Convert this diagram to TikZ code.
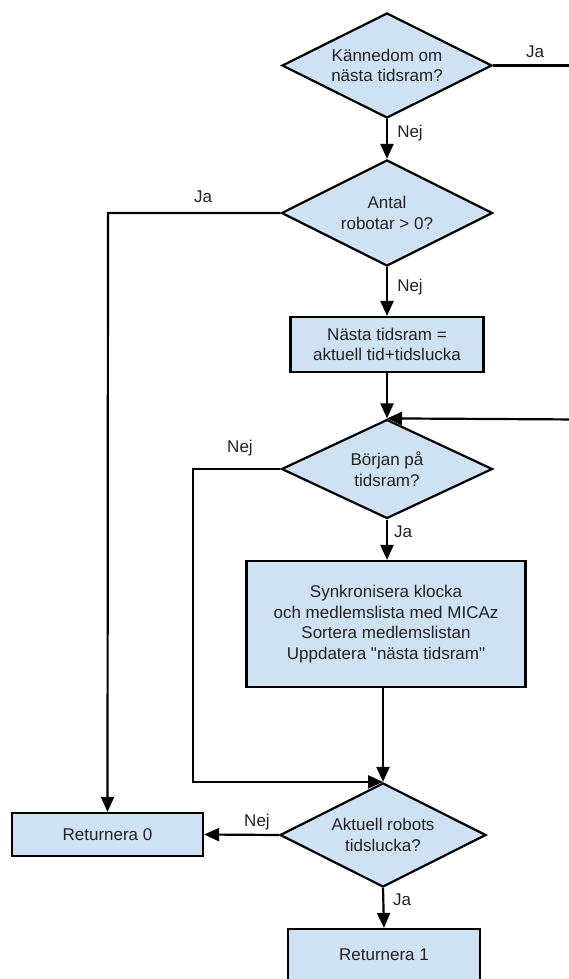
\documentclass[tikz,border=0pt]{standalone}
\usepackage{fontspec}
\setmainfont{Liberation Sans}[Ligatures=TeXOff]
\usetikzlibrary{shapes.geometric,arrows.meta}
\definecolor{boxblue}{HTML}{CFE2F3}
\definecolor{txt}{HTML}{222222}
\begin{document}
\begin{tikzpicture}[x=1pt,y=-1pt,
  font=\fontsize{17}{20.7}\selectfont, line width=2.2pt, text=txt,
  decision/.style={diamond, draw=black, fill=boxblue, aspect=2, inner sep=0pt, align=center},
  proc/.style={rectangle, draw=black, fill=boxblue, align=center, inner sep=0pt},
  arr/.style={-{Triangle[length=15pt,width=13pt]}},
  lbl/.style={inner sep=0pt}]
\useasboundingbox (0,0) rectangle (569,979);

% nodes
\node[decision, minimum width=210pt, minimum height=105pt] (d1) at (387,65.5) {Kännedom om\\nästa tidsram?};
\node[decision, minimum width=211pt, minimum height=106pt] (d2) at (387,213) {Antal\\robotar > 0?};
\node[proc, minimum width=193pt, minimum height=55pt] (b1) at (387,344.5) {Nästa tidsram =\\aktuell tid+tidslucka};
\node[decision, minimum width=211pt, minimum height=99pt] (d3) at (387,469) {Början på\\tidsram?};
\node[proc, minimum width=279pt, minimum height=126pt] (b2) at (386,624) {Synkronisera klocka\\och medlemslista med MICAz\\Sortera medlemslistan\\Uppdatera "nästa tidsram"};
\node[decision, minimum width=206pt, minimum height=104pt] (d4) at (383,835) {Aktuell robots\\tidslucka?};
\node[proc, minimum width=191pt, minimum height=43pt] (r0) at (107.5,834.5) {Returnera 0};
\node[proc, minimum width=192pt, minimum height=52pt] (r1) at (384,955) {Returnera 1};

% helper coordinates
\coordinate (jaout) at (580,65.5);
\coordinate (loopin) at (580,419.5);
\coordinate (leftja) at (108,0);
\coordinate (leftnej) at (193,0);

% labels
\node[lbl] (l1) at (535,52) {Ja};
\node[lbl] (l2) at (410,133) {Nej};
\node[lbl] (l3) at (203,197) {Ja};
\node[lbl] (l4) at (410,287) {Nej};
\node[lbl] (l5) at (240,448) {Nej};
\node[lbl] (l6) at (403,532) {Ja};
\node[lbl] (l7) at (257,822) {Nej};
\node[lbl] (l8) at (402,900) {Ja};

% connectors
\draw (d1.east) -- (jaout);
\draw[arr] (d1.south) -- (d2.north);
\draw[arr] (d2.west) -- (d2.west -| leftja) -- (r0.north);
\draw[arr] (d2.south) -- (b1.north);
\draw[arr] (b1.south) -- (d3.north);
\draw[arr] (loopin) -- (d3.north);
\draw[arr] (d3.west) -- (d3.west -| leftnej) -- (leftnej |- d4.north) -- (d4.north);
\draw[arr] (d3.south) -- (d3.south |- b2.north);
\draw[arr] (b2.south -| d4.north) -- (d4.north);
\draw[arr] (d4.west) -- (r0.east);
\draw[arr] (d4.south) -- (r1.north);
\end{tikzpicture}
\end{document}
